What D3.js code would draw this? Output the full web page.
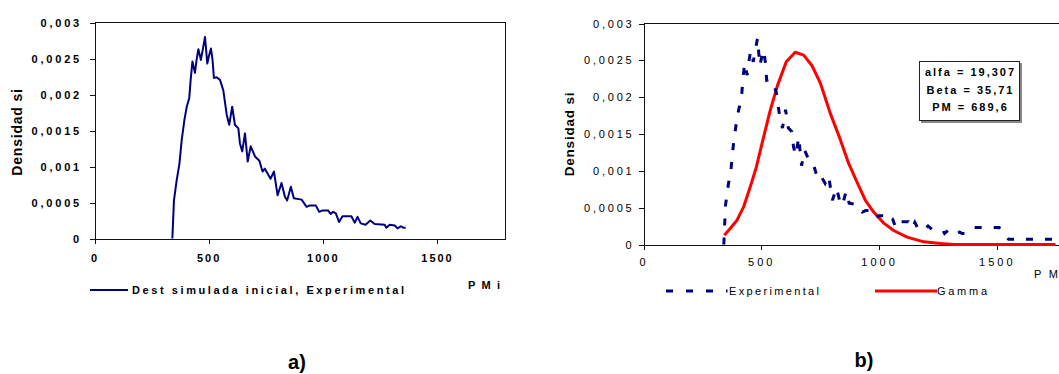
<!DOCTYPE html>
<html><head><meta charset="utf-8">
<script src="https://cdn.jsdelivr.net/npm/d3@7"></script>
<style>
body{margin:0;background:#fff}
svg{display:block}
text{font-family:"Liberation Sans",Arial,sans-serif;fill:#000}
</style>
</head><body><svg id="c" width="1059" height="374"></svg>
<script>
// Experimental density (panel a, and start of panel b)
const expX = [341,348,360,372,382,394,404,415,421,429,440,447,455,466,474,484,494,501,510,517,523,535,550,564,579,590,603,615,630,637,647,659,671,684,703,722,736,746,771,786,802,819,834,844,860,873,907,929,943,969,984,999,1023,1034,1045,1057,1071,1086,1125,1140,1152,1166,1187,1208,1227,1271,1278,1293,1315,1327,1342,1352,1363];
const expY = [0,0.00053,0.00081,0.00104,0.00137,0.00165,0.00183,0.00195,0.0022,0.00246,0.0023,0.00248,0.00263,0.00248,0.00262,0.0028,0.00243,0.00253,0.00264,0.00248,0.00223,0.00224,0.0022,0.00206,0.00172,0.00158,0.00183,0.00158,0.00153,0.00132,0.00121,0.00146,0.00107,0.00128,0.00114,0.00108,0.00093,0.00097,0.00083,0.00093,0.0006,0.00077,0.00058,0.00053,0.00072,0.00056,0.00054,0.00044,0.00046,0.00046,0.00037,0.00039,0.00039,0.00034,0.00037,0.00035,0.00023,0.00031,0.00031,0.00022,0.0003,0.00021,0.00019,0.00025,0.0002,0.00019,0.00015,0.00019,0.00018,0.00014,0.00017,0.00015,0.00015];
// Extra tail of the experimental series shown in panel b
const tailX = [1400,1510,1550,1750];
const tailY = [0.00023,0.00023,0.00007,0.00007];
// Gamma fit (panel b)
const gamX = [343,368,397,425,453,479,503,538,569,606,644,680,715,751,793,836,871,906,942,977,1020,1062,1119,1190,1261,1317,1749];
const gamY = [0.000127,0.000217,0.00033,0.00051,0.00078,0.00105,0.00137,0.00182,0.00216,0.00248,0.00261,0.00257,0.00243,0.00219,0.00178,0.00142,0.0011,0.00085,0.0006,0.00044,0.00029,0.00019,0.0001,0.000036,0.000014,0,0];

const xTicks = [0,500,1000,1500];
const xTickLabels = ["0","500","1000","1500"];
const yTicks = [0,0.0005,0.001,0.0015,0.002,0.0025,0.003];
const yTickLabels = ["0","0,0005","0,001","0,0015","0,002","0,0025","0,003"];
const params = ["alfa = 19,307","Beta = 35,71","PM  = 689,6"];

const svg = d3.select("#c");
const navy = "#00007f", red = "#ff0000";

function panel(o){
  const g = svg.append("g");
  const x = d3.scaleLinear().domain([0,1800]).range([o.x0,o.x1]);
  const y = d3.scaleLinear().domain([0,0.003]).range([o.y0,o.y1]);
  const ya = g.append("g").attr("transform",`translate(${o.x0},0)`)
    .call(d3.axisLeft(y).tickValues(yTicks).tickFormat((d,i)=>yTickLabels[i]).tickSize(5).tickSizeOuter(0).tickPadding(o.yPad));
  ya.selectAll("text").style("font-size","11px").style("font-weight",o.weight).style("letter-spacing","2.8px");
  const xa = g.append("g").attr("transform",`translate(0,${o.y0})`)
    .call(d3.axisBottom(x).tickValues(xTicks).tickFormat((d,i)=>xTickLabels[i]).tickSize(5).tickSizeOuter(0).tickPadding(o.xPad));
  xa.selectAll("text").style("font-size","11px").style("font-weight",o.weight).style("letter-spacing",o.xls);
  g.selectAll(".domain, .tick line").attr("stroke","#111").attr("shape-rendering","crispEdges");
  // frame
  g.append("line").attr("x1",o.x0).attr("x2",o.frameR).attr("y1",o.y1).attr("y2",o.y1).attr("stroke","#111").attr("shape-rendering","crispEdges");
  if(o.rightBorder) g.append("line").attr("x1",o.x1).attr("x2",o.x1).attr("y1",o.y1).attr("y2",o.y0).attr("stroke","#111").attr("shape-rendering","crispEdges");
  g.append("text").attr("transform",`translate(${o.titleX},${o.titleY}) rotate(-90)`)
    .attr("text-anchor","middle").style("font-size",o.titleSize).style("font-weight","bold").style("letter-spacing","0.8px").text("Densidad si");
  return {g,x,y};
}

// Panel a
const A = panel({x0:94.5,x1:505.5,y0:238.5,y1:22.5,frameR:505.5,rightBorder:true,yPad:7.5,xPad:11,weight:"bold",xls:"2px",titleX:22,titleY:132,titleSize:"14px"});
const lineA = d3.line().x(d=>A.x(d[0])).y(d=>A.y(d[1]));
A.g.append("path").datum(expX.map((v,i)=>[v,expY[i]])).attr("d",lineA)
  .attr("fill","none").attr("stroke",navy).attr("stroke-width",2).attr("stroke-linejoin","round");
A.g.append("line").attr("x1",90).attr("x2",128).attr("y1",290).attr("y2",290).attr("stroke",navy).attr("stroke-width",2);
A.g.append("text").attr("x",132).attr("y",294).style("font-size","11px").style("font-weight","bold")
  .attr("textLength",272).attr("lengthAdjust","spacing").text("Dest simulada inicial, Experimental");
A.g.append("text").attr("x",468).attr("y",289).style("font-size","11px").style("font-weight","bold")
  .attr("textLength",32).attr("lengthAdjust","spacing").text("PMi");
A.g.append("text").attr("x",297).attr("y",369).attr("text-anchor","middle").style("font-size","20px").style("font-weight","bold").text("a)");

// Panel b
const B = panel({x0:643.5,x1:1067.5,y0:244.5,y1:23.5,frameR:1059,rightBorder:false,yPad:4,xPad:9,weight:"normal",xls:"3px",titleX:574,titleY:134,titleSize:"13.5px"});
const lineB = d3.line().x(d=>B.x(d[0])).y(d=>B.y(d[1]));
const expB = expX.map((v,i)=>[v,expY[i]]).concat(tailX.map((v,i)=>[v,tailY[i]]));
B.g.append("path").datum(gamX.map((v,i)=>[v,gamY[i]])).attr("d",lineB)
  .attr("fill","none").attr("stroke",red).attr("stroke-width",3).attr("stroke-linejoin","round");
B.g.append("path").datum(expB).attr("d",lineB)
  .attr("fill","none").attr("stroke",navy).attr("stroke-width",3).attr("stroke-dasharray","7,12");
// legend
B.g.append("line").attr("x1",666).attr("x2",727.5).attr("y1",291).attr("y2",291).attr("stroke",navy).attr("stroke-width",3).attr("stroke-dasharray","7,13");
B.g.append("text").attr("x",729).attr("y",295).style("font-size","11px")
  .attr("textLength",90).attr("lengthAdjust","spacing").text("Experimental");
B.g.append("line").attr("x1",875).attr("x2",937).attr("y1",291).attr("y2",291).attr("stroke",red).attr("stroke-width",3);
B.g.append("text").attr("x",937).attr("y",295).style("font-size","11px")
  .attr("textLength",50).attr("lengthAdjust","spacing").text("Gamma");
B.g.append("text").attr("x",1034).attr("y",278).style("font-size","11px")
  .attr("textLength",24).attr("lengthAdjust","spacing").text("PM");
B.g.append("text").attr("x",864).attr("y",367).attr("text-anchor","middle").style("font-size","20px").style("font-weight","bold").text("b)");
// parameter box
B.g.append("rect").attr("x",921).attr("y",63).attr("width",101).attr("height",60).attr("fill","#888");
B.g.append("rect").attr("x",919.5).attr("y",61.5).attr("width",100).attr("height",59).attr("fill","#fff").attr("stroke","#222").attr("stroke-width",1);
B.g.selectAll("text.par").data(params).enter().append("text").attr("class","par")
  .attr("x",970.5).attr("y",(d,i)=>76+i*17.5).attr("text-anchor","middle")
  .style("font-size","11px").style("letter-spacing","2px").style("font-weight","bold").text(d=>d);
</script>
</body></html>
